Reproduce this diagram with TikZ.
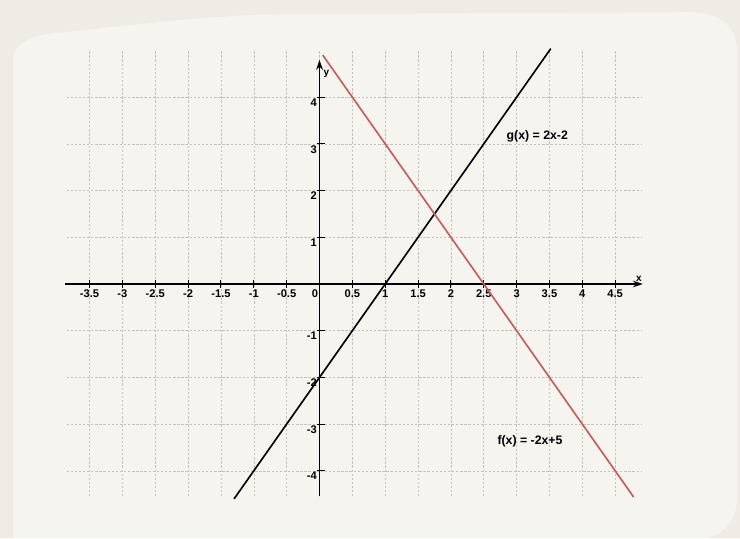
\documentclass[tikz,border=0pt]{standalone}
\usepackage{fontspec}
\setmainfont{Liberation Sans}
\usepackage{xcolor}
\usepackage{tikz}
\usetikzlibrary{arrows.meta, positioning}
\definecolor{paper}{RGB}{238, 236, 229}
\definecolor{card}{RGB}{245, 244, 238}
\definecolor{fred}{RGB}{200, 92, 92}
\definecolor{gridgray}{RGB}{196, 196, 191}
\tikzstyle{gridline} = [gridgray, line width=0.5pt, dash pattern=on 2pt off 1.5pt]
\tikzstyle{axis} = [-{Stealth[length=3mm, width=2mm]}, line width=1.6pt]
\tikzstyle{tick} = [line width=0.8pt]
\tikzstyle{xlab} = [anchor=north, inner sep=1pt, font=\bfseries\fontsize{9.5}{10}\selectfont]
\tikzstyle{ylab} = [anchor=north east, inner sep=1pt, font=\bfseries\fontsize{9.5}{10}\selectfont]
\tikzstyle{fnlabel} = [inner sep=1pt, font=\bfseries\fontsize{10.5}{12}\selectfont]
\tikzstyle{graph} = [line width=1.4pt]

\begin{document}
\begin{tikzpicture}[x=1.971cm, y=1.401cm]
    % Paper
    \fill[paper] (-4.863,-5.439) rectangle (6.400,6.081);
    \useasboundingbox (-4.863,-5.439) rectangle (6.400,6.081);
    \fill[card] (-4.665,-5.439) -- (-4.665,4.797) .. controls (-4.665,5.2) and (-4.3,5.35) .. (-3.95,5.38)
        .. controls (-2.5,5.6) and (-1.5,5.78) .. (-0.3,5.78) -- (5.64,5.82)
        .. controls (6.1,5.82) and (6.355,5.5) .. (6.355,5.0) -- (6.355,-4.6)
        .. controls (6.355,-5.1) and (6.1,-5.439) .. (5.8,-5.439) -- cycle;

    % Grid
    \draw[gridline, xstep=0.5, ystep=1] (-3.85,-4.55) grid (4.9,4.98);

    % Axes
    \coordinate (xstart) at (-3.87,0);
    \coordinate (xend) at (4.92,0);
    \coordinate (ystart) at (0,-4.55);
    \coordinate (yend) at (0,4.8);
    \draw[axis] (xstart) -- (xend);
    \draw[axis, line width=1.1pt] (ystart) -- (yend);
    \node[inner sep=0.5pt, anchor=south, font=\bfseries\fontsize{8.5}{9}\selectfont] (xname) at (4.86,0.04) {x};
    \node[inner sep=0.5pt, anchor=west, font=\bfseries\fontsize{8.5}{9}\selectfont] (yname) at (0.05,4.5) {y};

    % Ticks on x
    \draw[tick] (-3.5,0.086) -- (-3.5,-0.086) node[xlab] (xm35) {-3.5};
    \draw[tick] (-3,0.086) -- (-3,-0.086) node[xlab] (xm30) {-3};
    \draw[tick] (-2.5,0.086) -- (-2.5,-0.086) node[xlab] (xm25) {-2.5};
    \draw[tick] (-2,0.086) -- (-2,-0.086) node[xlab] (xm20) {-2};
    \draw[tick] (-1.5,0.086) -- (-1.5,-0.086) node[xlab] (xm15) {-1.5};
    \draw[tick] (-1,0.086) -- (-1,-0.086) node[xlab] (xm10) {-1};
    \draw[tick] (-0.5,0.086) -- (-0.5,-0.086) node[xlab] (xm05) {-0.5};
    \node[xlab] (x00) at (-0.07,-0.086) {0};
    \draw[tick] (0.5,0.086) -- (0.5,-0.086) node[xlab] (x05) {0.5};
    \draw[tick] (1,0.086) -- (1,-0.086) node[xlab] (x10) {1};
    \draw[tick] (1.5,0.086) -- (1.5,-0.086) node[xlab] (x15) {1.5};
    \draw[tick] (2,0.086) -- (2,-0.086) node[xlab] (x20) {2};
    \draw[tick] (2.5,0.086) -- (2.5,-0.086) node[xlab] (x25) {2.5};
    \draw[tick] (3,0.086) -- (3,-0.086) node[xlab] (x30) {3};
    \draw[tick] (3.5,0.086) -- (3.5,-0.086) node[xlab] (x35) {3.5};
    \draw[tick] (4,0.086) -- (4,-0.086) node[xlab] (x40) {4};
    \draw[tick] (4.5,0.086) -- (4.5,-0.086) node[xlab] (x45) {4.5};

    % Ticks on y
    \draw[tick] (-0.045,4) -- (0.09,4);
    \draw[tick] (-0.045,3) -- (0.09,3);
    \draw[tick] (-0.045,2) -- (0.09,2);
    \draw[tick] (-0.045,1) -- (0.09,1);
    \draw[tick] (-0.045,-1) -- (0.09,-1);
    \draw[tick] (-0.045,-2) -- (0.09,-2);
    \draw[tick] (-0.045,-3) -- (0.09,-3);
    \draw[tick] (-0.045,-4) -- (0.09,-4);
    \node[ylab] (y4) at (-0.02,4) {4};
    \node[ylab] (y3) at (-0.02,3) {3};
    \node[ylab] (y2) at (-0.02,2) {2};
    \node[ylab] (y1) at (-0.02,1) {1};
    \node[ylab] (ym1) at (-0.02,-1) {-1};
    \node[ylab] (ym2) at (-0.02,-2) {-2};
    \node[ylab] (ym3) at (-0.02,-3) {-3};
    \node[ylab] (ym4) at (-0.02,-4) {-4};

    % Functions
    \draw[graph] (-1.3,-4.6) -- (3.52,5.04);
    \draw[graph, fred] (0.05,4.9) -- (4.78,-4.56);
    \node[fnlabel] (glabel) at (3.315,3.154) {g(x) = 2x-2};
    \node[fnlabel] (flabel) at (3.204,-3.377) {f(x) = -2x+5};
\end{tikzpicture}
\end{document}
